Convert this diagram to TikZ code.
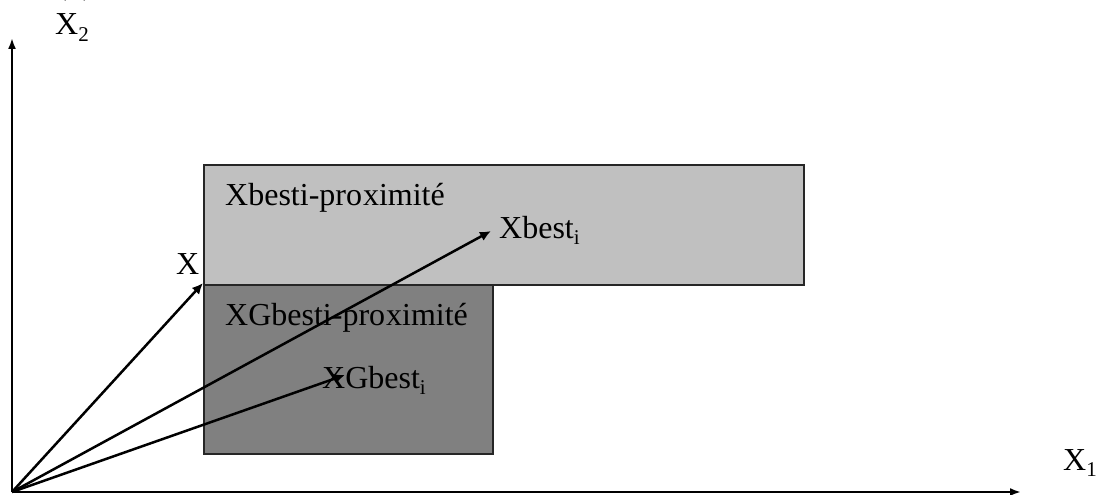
\documentclass[tikz,border=0pt]{standalone}
\usepackage{fontspec}
\setmainfont{Liberation Serif}
\usetikzlibrary{arrows.meta}
% lowered, smaller index as in X_2, Xbest_i
\newcommand\lowidx[1]{\raisebox{-0.2em}{\fontsize{21}{21}\selectfont #1}}
\begin{document}
\begin{tikzpicture}[x=1pt,y=-1pt,
  lbl/.style={inner sep=0pt, font=\fontsize{32}{37}\selectfont, anchor=base west},
  vec/.style={line width=2.5pt, -{Latex[length=11pt,width=10pt]}},
  axis/.style={line width=2pt, -{Latex[length=11pt,width=8pt]}},
  zone/.style={draw=black!85, line width=2pt, inner sep=0pt, anchor=north west}
]
\useasboundingbox (0,0) rectangle (1106,495);

% neighbourhood zones
\node[zone, fill={rgb,255:red,192;green,192;blue,192},
      minimum width=600pt, minimum height=120pt] (near) at (203,164) {};
\node[zone, fill={rgb,255:red,128;green,128;blue,128},
      minimum width=289pt, minimum height=169pt] (gnear) at (203,284) {};

% origin, axis ends and vector tips
\coordinate (O) at (12,492);
\coordinate (ytip) at (12,38);
\coordinate (xtip) at (1021,492);
\coordinate (xpos) at (203,283);
\coordinate (xbest) at (491,231);
\coordinate (xgbest) at (345,375);

% labels
\node[lbl] (title) at (56,-5) {(b)};
\node[lbl] (lx2) at (55,35) {X\lowidx{2}};
\node[lbl] (lx1) at (1063,470) {X\lowidx{1}};
\node[lbl] (lnear) at (225,205) {Xbesti-pro\kern1pt ximité};
\node[lbl] (lgnear) at (225,325) {XGbesti-pro\kern1pt ximité};
\node[lbl] (lx) at (176,274) {X};
\node[lbl] (lxbest) at (499,238) {Xbest\lowidx{i}};
\node[lbl] (lxgbest) at (322,388) {XGbest\lowidx{i}};

% axes
\draw[axis] (O) -- (ytip);
\draw[axis] (O) -- (xtip);

% position vectors
\draw[vec] (O) -- (xpos);
\draw[vec] (O) -- (xbest);
\draw[vec] (O) -- (xgbest);
\end{tikzpicture}
\end{document}
